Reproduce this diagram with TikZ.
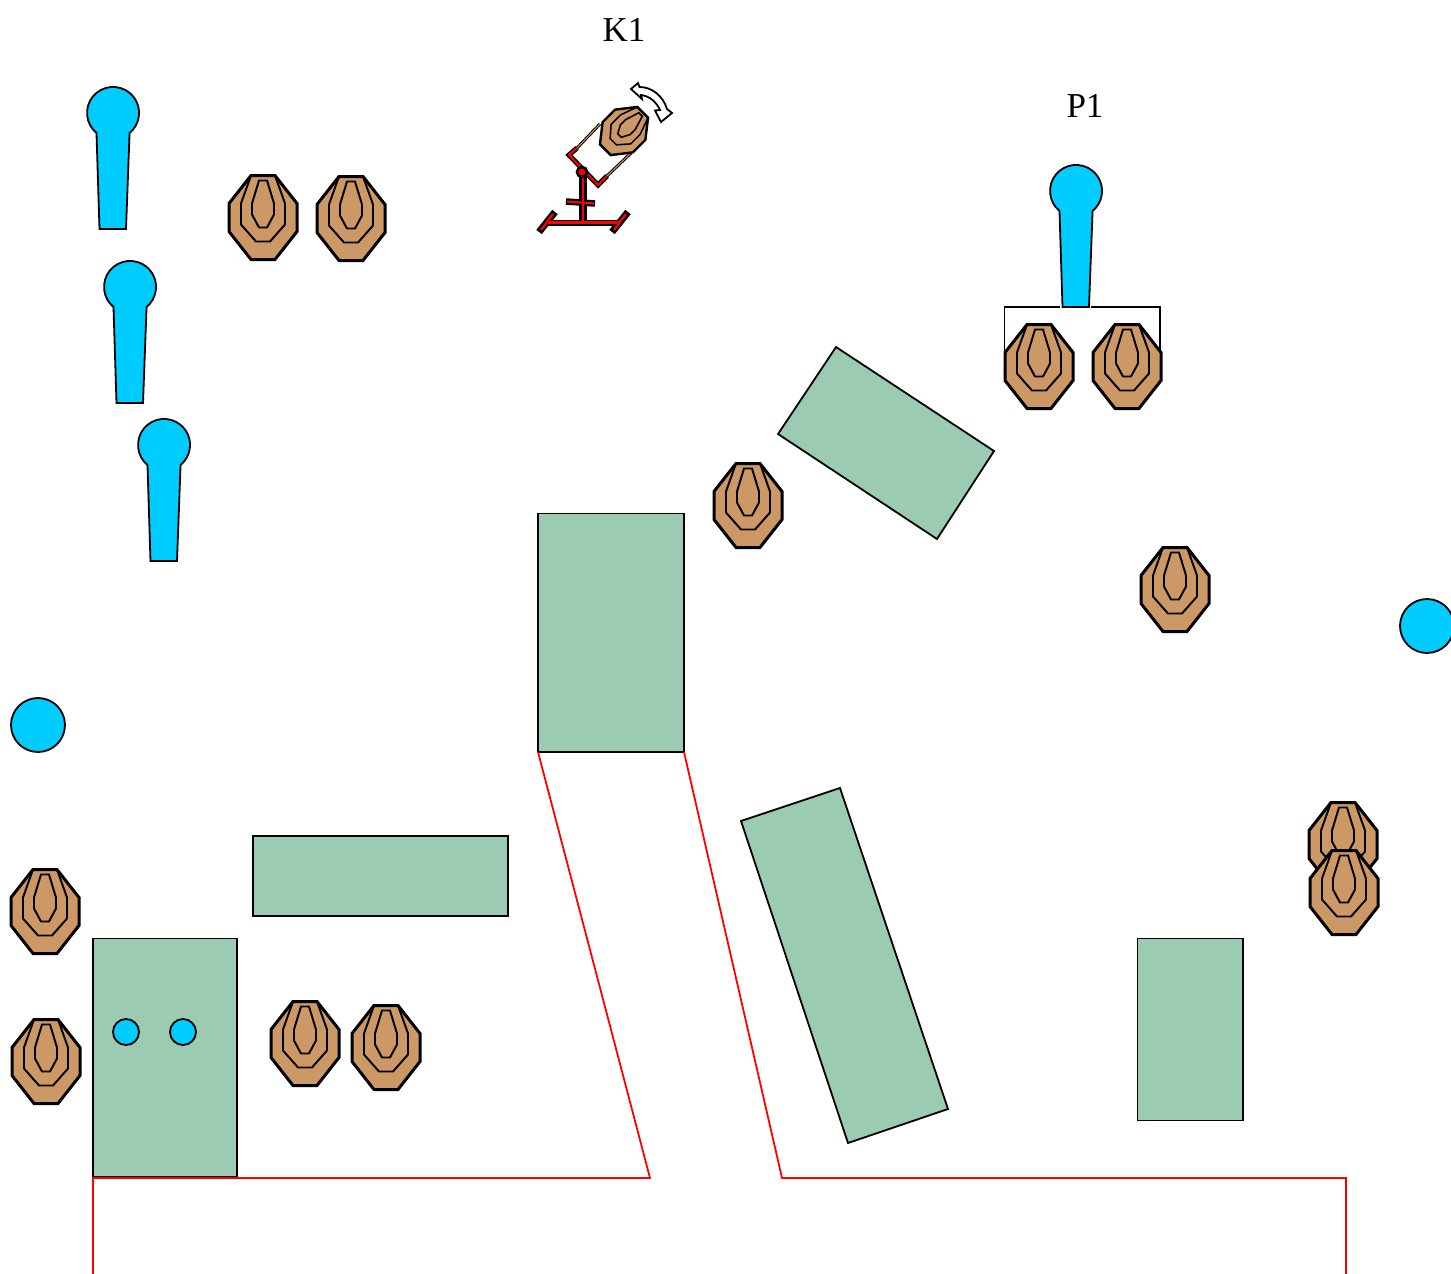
\documentclass[tikz,border=0pt]{standalone}
\usepackage{fontspec}
\setmainfont{Liberation Serif}
\definecolor{pawnblue}{RGB}{0,204,255}
\definecolor{boxgreen}{RGB}{155,203,178}
\definecolor{tan1}{RGB}{204,153,102}
\tikzset{
  wall/.style={draw=black,fill=boxgreen,line width=1.8pt},
  fence/.style={draw=red,line width=1.8pt},
  bluefill/.style={draw=black,fill=pawnblue,line width=1.8pt},
  label/.style={font=\fontsize{35}{38}\selectfont,inner sep=0pt},
  redbar/.style={draw=red,line width=2.2pt,line cap=butt},
  blackbar/.style={draw=black,line width=7pt,line cap=butt},
  pics/paper/.style={code={
    \filldraw[fill=tan1,draw=black,line width=#1 pt,line join=miter]
      (-12,-42)--(12,-42)--(34,-14)--(34,14)--(12,42)--(-12,42)--(-34,14)--(-34,-14)--cycle;
    \draw[black,line width=#1*0.65 pt]
      (-12,-42)--(-22,-14)--(-22,7)--(-7,24)--(7,24)--(22,7)--(22,-14)--(12,-42);
    \draw[black,line width=#1*0.65 pt]
      (-4,-37)--(4,-37)--(11,-14)--(11,-3)--(4,10)--(-4,10)--(-11,-3)--(-11,-14)--cycle;
  }},
  pics/pawn/.style={code={
    \path[bluefill] (-16.5,20) arc[start angle=129.5,end angle=410.5,radius=26]
      --(13,116)--(-13.5,116)--cycle;
  }}
}
\begin{document}
\begin{tikzpicture}[x=1pt,y=-1pt]
\useasboundingbox (0,0) rectangle (1451,1274);
% walls
\path[wall] (538,513.5) rectangle (684,752);
\path[wall] (253,836) rectangle (508,916);
\path[wall] (93,938.5) rectangle (237,1177);
\path[wall] (1137.5,938.5) rectangle (1243,1120.5);
\path[wall] (836,347)--(994,451)--(937,539)--(778,434)--cycle;
\path[wall] (741,821)--(840,788)--(948,1109)--(848,1143)--cycle;
% fault lines
\draw[fence] (538,752)--(650,1178)--(93,1178)--(93,1274);
\draw[fence] (684,752)--(782,1178)--(1346,1178)--(1346,1274);
% blue
\path[bluefill] (38,725) circle[radius=27];
\path[bluefill] (1427,626) circle[radius=27];
\path[bluefill] (126,1032) circle[radius=13];
\path[bluefill] (183,1032) circle[radius=13];
\pic at (113,113) {pawn};
\pic at (130,287) {pawn};
\pic at (164,445) {pawn};
\pic at (1076,191) {pawn};
% bracket
\draw[black,line width=1.5pt] (1060,307)--(1004.5,307)--(1004.5,352);
\draw[black,line width=1.5pt] (1091,307)--(1160,307)--(1160,352);
% targets
\foreach \x/\y in {263/217.5,351/218.5,1039/366.5,1127/366.5,748/505.5,1175/589.5,1343/844.5,1344/892.5,45/911.5,46/1061.5,305/1043.5,386/1047.5}
  \pic at (\x,\y) {paper=3};
% K1 stand
\draw[blackbar] (539,232)--(555,212);
\draw[blackbar] (612,232)--(628,212);
\draw[blackbar,line width=6pt] (546,222.5)--(622,222.5);
\draw[blackbar,line width=8pt] (583,222)--(583,172);
\draw[blackbar,line width=6.5pt] (566,201.5)--(595,203.5);
\draw[blackbar,line width=5pt,line join=miter] (577,148)--(569,155)--(598,185)--(607,176);
\draw[redbar] (541,230)--(553,214);
\draw[redbar] (614,230)--(626,214);
\draw[redbar] (548,222.5)--(620,222.5);
\draw[redbar] (583,222)--(583,172);
\draw[redbar] (567,201.5)--(594,203.5);
\draw[redbar,line width=2pt,line join=miter] (577,148)--(569,155)--(598,185)--(607,176);
\draw[draw=black,line width=3pt] (577,148)--(600,124);
\draw[draw=tan1,line width=1pt] (577,148)--(600,124);
\draw[draw=black,line width=3pt] (607,176)--(631,153);
\draw[draw=tan1,line width=1pt] (607,176)--(631,153);
\filldraw[fill=red,draw=black,line width=2.6pt] (582,172) circle[radius=5];
\pic[rotate=-45,scale=0.63] at (624,131) {paper=2.4};
% rotation arrow
\filldraw[fill=white,draw=black,line width=1.8pt,line join=miter]
  (631,89)--(638,83)--(639.5,87)
  .. controls (652,87) and (663,96) .. (667,109)
  --(672,113)--(661,122)--(655,110.5)--(660,110)
  .. controls (657,103) and (650,96) .. (641,95)
  --(642,99)--cycle;
% labels
\node[label] (k1) at (624,30) {K1};
\node[label] (p1) at (1085,106) {P1};
\end{tikzpicture}
\end{document}
